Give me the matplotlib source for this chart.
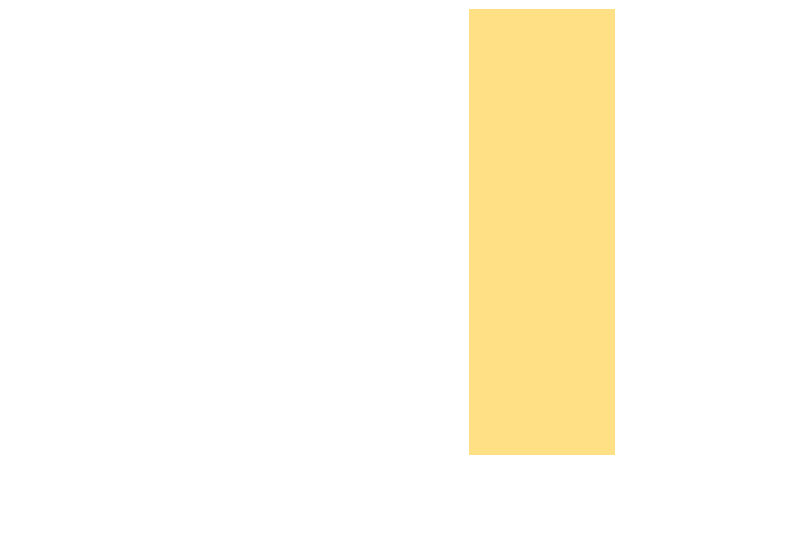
import matplotlib
matplotlib.use("Agg")
import matplotlib.pyplot as plt

categories = ["Highlighted"]
values = [1.0]

fig = plt.figure(figsize=(7.91, 5.56), dpi=100)
fig.patch.set_facecolor("white")
ax = fig.add_axes([0, (556 - 455) / 556, 1, 446 / 556])
ax.bar(range(len(categories)), values, width=0.8, color="#FFE085", edgecolor="none")
ax.set_xlim(-542 / 182.5, (791 - 542) / 182.5)
ax.set_ylim(0, 1.0)
ax.axis("off")
fig.savefig("out.png", dpi=100, facecolor="white")
